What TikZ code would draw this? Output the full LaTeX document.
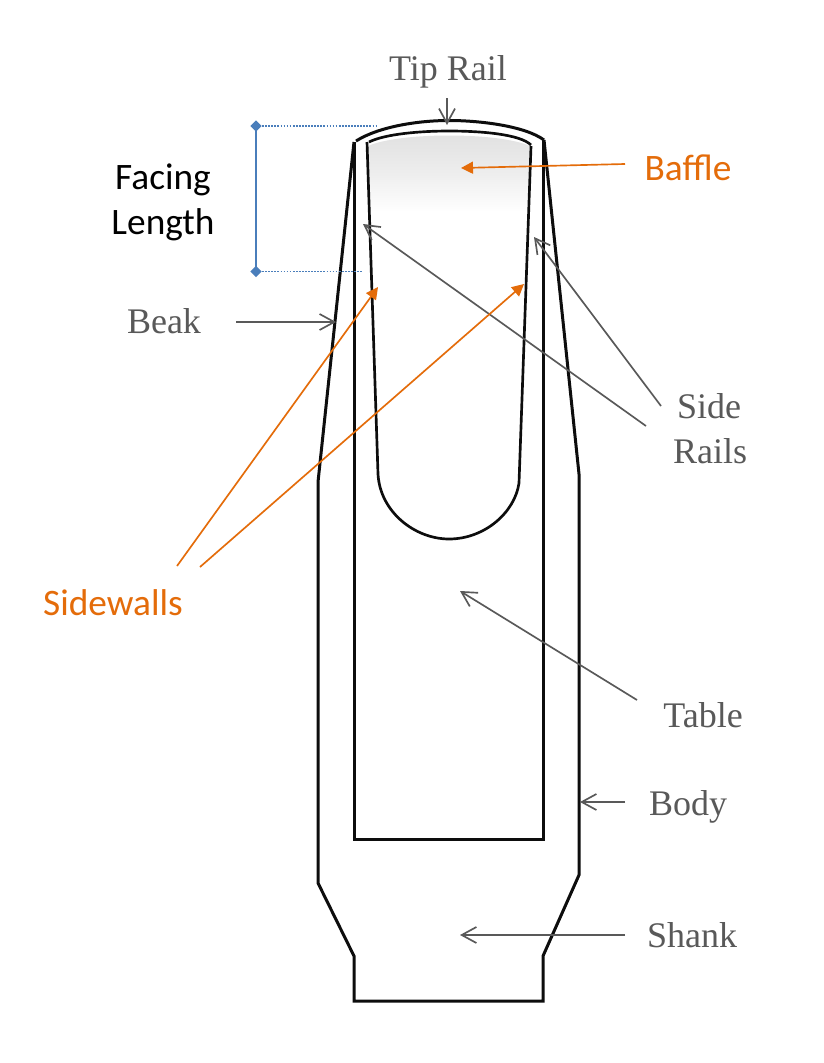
\documentclass[tikz,border=0pt]{standalone}
\usepackage{fontspec}
\setmainfont{Liberation Serif}
\newfontfamily\calib{Carlito}
\usetikzlibrary{arrows.meta,shapes.geometric}
\definecolor{lblgray}{HTML}{595959}
\definecolor{lblorange}{HTML}{E46C0A}
\definecolor{dimblue}{HTML}{4A7EBB}
\definecolor{outlineblack}{HTML}{0D0D0D}
\tikzset{
  outline/.style={draw=outlineblack,line width=2.25pt,line join=miter},
  thinoutline/.style={draw=outlineblack,line width=2pt,line join=round},
  grayarrow/.style={draw=lblgray,line width=1.25pt,-{Straight Barb[length=11pt,width=12pt,line width=1.25pt]}},
  orangearrow/.style={draw=lblorange,line width=1.25pt,-{Triangle[length=9pt,width=9pt]}},
  graylabel/.style={text=lblgray,font=\fontsize{27}{30}\selectfont,anchor=base,inner sep=0pt},
  orangelabel/.style={text=lblorange,font=\calib\fontsize{28}{33}\selectfont,anchor=base,inner sep=0pt},
  blacklabel/.style={text=black,font=\calib\fontsize{28}{33}\selectfont,anchor=base,inner sep=0pt},
  dimdot/.style={draw=dimblue,line width=1.1pt,dash pattern=on 1.3pt off 1pt},
  dimline/.style={draw=dimblue,line width=1.3pt},
  dimend/.style={diamond,fill=dimblue,inner sep=0pt,minimum size=8.5pt}
}
\begin{document}
\begin{tikzpicture}[x=0.75pt,y=-0.75pt]
\useasboundingbox (0,0) rectangle (824,1063);
\fill[white] (0,0) rectangle (824,1063);
% baffle shading
\shade[top color=black!12,bottom color=white,middle color=black!7]
  (368,146) .. controls (400,132) and (498,132) .. (530,146) -- (527,212) -- (370,212) -- cycle;
% mouthpiece outline
\draw[outline] (354,142) -- (318,482) -- (318,883) -- (354,956) -- (354,1001) -- (543,1001) -- (543,956) -- (579,875) -- (579,474) -- (544,140);
\draw[outline] (354,142) -- (354,839) -- (543,839) -- (543,140);
\draw[outline] (356,141) .. controls (380,126) and (420,120.5) .. (449,120.5) .. controls (480,120.5) and (525,126) .. (544,140);
\draw[thinoutline] (369,142) .. controls (385,134) and (420,131) .. (449,131) .. controls (480,131) and (520,134) .. (531,145);
\draw[thinoutline] (367,142) -- (378,474) .. controls (380,512) and (415,539) .. (449,539) .. controls (485,539) and (515,512) .. (519,483) -- (531,146);
% facing length
\node[dimend] (dimtop) at (256,126) {};
\node[dimend] (dimbot) at (256,271.5) {};
\coordinate (dimtopend) at (378,126);
\coordinate (dimbotend) at (363,271.5);
\draw[dimdot] (dimtop.center) -- (dimtopend);
\draw[dimdot] (dimbot.center) -- (dimbotend);
\draw[dimline] (dimtop.center) -- (dimbot.center);
% labels
\node[graylabel] (tiprail) at (448,80) {Tip Rail};
\node[orangelabel] (baffle) at (688,180) {Baffle};
\node[blacklabel] (facing) at (163,189) {Facing};
\node[blacklabel] (length) at (163,234) {Length};
\node[graylabel] (beak) at (164,333) {Beak};
\node[graylabel] (side) at (709,418) {Side};
\node[graylabel] (rails) at (710,463) {Rails};
\node[orangelabel] (sidewalls) at (113,615) {Sidewalls};
\node[graylabel] (table) at (703,727) {Table};
\node[graylabel] (body) at (688,815) {Body};
\node[graylabel] (shank) at (692,947) {Shank};
% connector ends
\coordinate (tipS) at (447,98);   \coordinate (tipE) at (447,125);
\coordinate (bafS) at (625,164);  \coordinate (bafE) at (461,168);
\coordinate (beakS) at (236,322); \coordinate (beakE) at (336,322);
\coordinate (srAS) at (646,426);  \coordinate (srAE) at (363,224);
\coordinate (srBS) at (661,406);  \coordinate (srBE) at (534,237);
\coordinate (swAS) at (177,566);  \coordinate (swAE) at (378,287);
\coordinate (swBS) at (200,567);  \coordinate (swBE) at (524,284);
\coordinate (tabS) at (637,700);  \coordinate (tabE) at (460,591);
\coordinate (bodS) at (625,802);  \coordinate (bodE) at (580,802);
\coordinate (shaS) at (625,935);  \coordinate (shaE) at (460,935);
\draw[grayarrow] (tipS) -- (tipE);
\draw[orangearrow] (bafS) -- (bafE);
\draw[grayarrow] (beakS) -- (beakE);
\draw[grayarrow] (srAS) -- (srAE);
\draw[grayarrow] (srBS) -- (srBE);
\draw[orangearrow] (swAS) -- (swAE);
\draw[orangearrow] (swBS) -- (swBE);
\draw[grayarrow] (tabS) -- (tabE);
\draw[grayarrow] (bodS) -- (bodE);
\draw[grayarrow] (shaS) -- (shaE);
\end{tikzpicture}
\end{document}
